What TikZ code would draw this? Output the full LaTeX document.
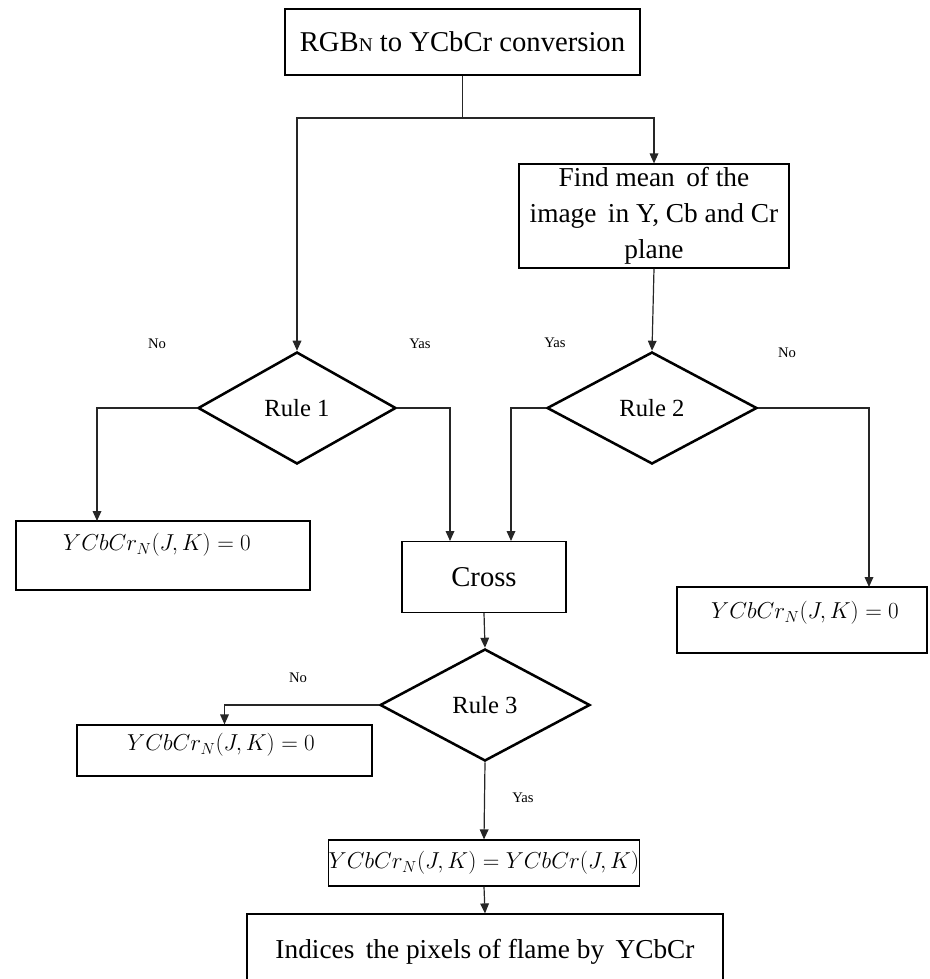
\documentclass[tikz,border=0pt]{standalone}
\usepackage{fontspec}
\setmainfont{Liberation Serif}
\usetikzlibrary{shapes.geometric,arrows.meta,calc}

\begin{document}
\begin{tikzpicture}[x=0.75pt,y=-0.75pt,
  every node/.style={font=\fontsize{21.5}{27}\selectfont},
  body/.style={font=\fontsize{20.5}{27}\selectfont},
  box/.style={draw, line width=0.9pt, inner sep=0pt},
  decision/.style={draw, diamond, line width=1.9pt, inner sep=0pt,
    font=\fontsize{18.5}{22}\selectfont},
  formula/.style={font=\fontsize{17.5}{22}\selectfont},
  tag/.style={font=\fontsize{11}{13}\selectfont},
  link/.style={line width=0.9pt, black!85},
  flow/.style={link, -{Triangle[length=7.5pt,width=6.5pt]}}]
\useasboundingbox (0,0) rectangle (930,979);
\clip (0,0) rectangle (930,979);

% process boxes
\node[box, minimum width=266.25pt, minimum height=49.5pt] (conv) at (462.5,42)
  {RGB{\fontsize{14.5}{14}\selectfont N} to YCbCr conversion};
\node[box, body, minimum width=202.5pt, minimum height=78pt, align=center] (mean) at (654,216)
  {Find mean\, of the\\ image\, in Y, Cb and Cr\\ plane};

% decisions
\node[decision, minimum width=148.5pt, minimum height=84pt] (r1) at (297,408) {Rule 1};
\node[decision, minimum width=157.5pt, minimum height=84pt] (r2) at (652,408) {Rule 2};
\node[decision, minimum width=157.5pt, minimum height=84pt] (r3) at (485,705) {Rule 3};

% outcome boxes
\node[box, minimum width=220.5pt, minimum height=51.75pt] (z1) at (163,555.5) {};
\node[formula] (z1t) at (157,545) {$YCbCr_N(J,K)=0$};
\node[box, minimum width=187.5pt, minimum height=49.5pt] (z2) at (802,620) {};
\node[formula] (z2t) at (805,613) {$YCbCr_N(J,K)=0$};
\node[box, minimum width=123pt, minimum height=53.25pt] (cross) at (484,577) {Cross};
\node[box, minimum width=221.25pt, minimum height=38.25pt] (z3) at (224.5,750.5) {};
\node[formula] (z3t) at (221,745) {$YCbCr_N(J,K)=0$};
\node[box, formula, minimum width=232.5pt, minimum height=34.5pt] (keep) at (484,863)
  {$YCbCr_N(J,K)=YCbCr(J,K)$};
\node[box, minimum width=357pt, minimum height=60pt] (idx) at (485,954) {};
\node[body] (idxt) at (485,952) {Indices\, the pixels of flame by\, YCbCr};

% branch labels
\node[tag] (n1) at (157,344) {No};
\node[tag] (y1) at (420,344) {Yas};
\node[tag] (y2) at (555,343) {Yas};
\node[tag] (n2) at (787,353) {No};
\node[tag] (n3) at (298,678) {No};
\node[tag] (y3) at (523,798) {Yas};

% connectors
\coordinate (split) at (conv.south |- 0,118);
\draw[link] (conv.south) -- (split);
\draw[flow] (split) -| (r1.north);
\draw[flow] (split) -| (mean.north);
\draw[flow] (mean.south) -- (r2.north);
\coordinate (a1) at (97,521);
\coordinate (a2) at (450,541);
\coordinate (a3) at (511,541);
\coordinate (a4) at (869,587);
\draw[flow] (r1.west) -| (a1);
\draw[flow] (r1.east) -| (a2);
\draw[flow] (r2.west) -| (a3);
\draw[flow] (r2.east) -| (a4);
\draw[flow] (cross.south) -- (r3.north);
\draw[flow] (r3.west) -| (z3.north);
\draw[flow] (r3.south) -- (keep.north);
\draw[flow] (keep.south) -- (idx.north);
\end{tikzpicture}
\end{document}
